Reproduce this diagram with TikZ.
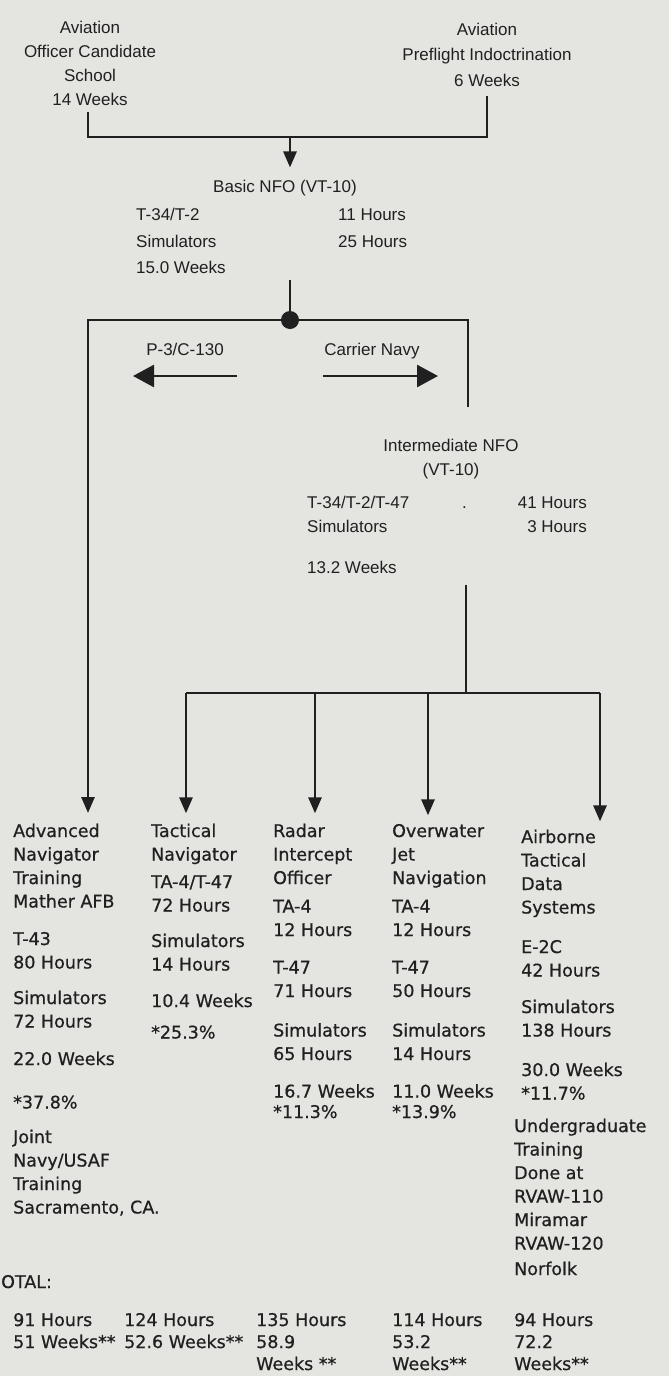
\documentclass[tikz,border=0pt]{standalone}
\usepackage{fontspec}
\setmainfont{Liberation Sans}
\newfontfamily\colfont[FakeBold=0.6]{DejaVu Sans}
\usetikzlibrary{arrows.meta}
\definecolor{paper}{RGB}{228,228,225}
\definecolor{ink}{RGB}{32,32,32}
% stacked lines, baseline on the first line
\newcommand{\lstack}[1]{\begin{tabular}[t]{@{}l@{}}#1\end{tabular}}
\newcommand{\cstack}[1]{\begin{tabular}[t]{@{}c@{}}#1\end{tabular}}
\newcommand{\rstack}[1]{\begin{tabular}[t]{@{}r@{}}#1\end{tabular}}
\begin{document}
\begin{tikzpicture}[x=1pt,y=-1pt,
  every node/.style={text=ink,inner sep=0pt},
  hd/.style={font=\fontsize{17}{24}\selectfont,anchor=base},
  lbl/.style={font=\fontsize{17}{24}\selectfont,anchor=base west},
  colnode/.style={font=\colfont\fontsize{17.5}{23.5}\selectfont,anchor=base west},
  link/.style={draw=ink,line width=2.8pt},
  arr/.style={link,-{Triangle[length=16pt,width=13pt]}},
  bigarr/.style={link,-{Triangle[length=21pt,width=22pt]}}]
\fill[paper] (0,0) rectangle (669,1376);
\useasboundingbox (0,0) rectangle (669,1376);

% entry programs
\node[hd] (ocs) at (90,33) {\cstack{Aviation\\Officer Candidate\\School\\14 Weeks}};
\node[hd] (api) at (487,35) {\cstack{Aviation\\[1pt]Preflight Indoctrination\\[2pt]6 Weeks}};
\coordinate (jn) at (290,137);
\draw[link] ([xshift=-2pt]ocs.south) |- (jn) -| ([yshift=-3pt]api.south);

% basic NFO
\node[hd] (basic) at (285,192) {Basic NFO (VT-10)};
\draw[arr,shorten >=12pt] (jn) -- (jn |- basic.north);
\node[lbl] (basicl) at (136,220) {\lstack{T-34/T-2\\[3pt]Simulators\\[2pt]15.0 Weeks}};
\node[lbl] (basicr) at (338,220) {\lstack{11 Hours\\[3pt]25 Hours}};

% split into the two pipelines
\coordinate (hub) at (290,320);
\coordinate (advtip) at (88,813);
\coordinate (intend) at (468,407);
\draw[link] (basicl.south -| hub) -- (hub);
\draw[arr] (hub) -| (advtip);
\draw[link] (hub) -| (intend);
\fill[ink] (hub) circle (9pt);

\node[hd] (p3) at (185,355) {P-3/C-130};
\node[hd] (carrier) at (372,355) {Carrier Navy};
\coordinate (p3a) at (237,376);
\coordinate (p3b) at (133,376);
\coordinate (cna) at (323,376);
\coordinate (cnb) at (438,376);
\draw[bigarr] (p3a) -- (p3b);
\draw[bigarr] (cna) -- (cnb);

% intermediate NFO
\node[hd] (inter) at (451,451) {\cstack{Intermediate NFO\\(VT-10)}};
\node[lbl] (interl) at (307,508) {\lstack{T-34/T-2/T-47\\Simulators\\[17pt]13.2 Weeks}};
\node[lbl] (interdot) at (462,508) {.};
\node[lbl,anchor=base east] (interr) at (587,508) {\rstack{41 Hours\\3 Hours}};

\coordinate (fork) at (466,693);
\coordinate (fl) at (186,693);
\coordinate (f3) at (315,693);
\coordinate (f4) at (428,693);
\coordinate (fr) at (600,693);
\draw[link] ([yshift=-5pt]interl.south -| fork) -- (fork);
\draw[link] (fl) -- (fr);

% advanced pipelines
\node[colnode] (adv) at (13,837) {\lstack{Advanced\\Navigator\\Training\\Mather AFB\\[14pt]T-43\\80 Hours\\[12pt]Simulators\\72 Hours\\[14pt]22.0 Weeks\\[20pt]*37.8\%\\[11pt]Joint\\Navy/USAF\\Training\\Sacramento, CA.}};
\node[colnode] (tac) at (151,837) {\lstack{Tactical\\Navigator\\[4pt]TA-4/T-47\\72 Hours\\[12pt]Simulators\\14 Hours\\[13pt]10.4 Weeks\\[8pt]*25.3\%}};
\node[colnode] (rio) at (273,837) {\lstack{Radar\\Intercept\\Officer\\[5pt]TA-4\\12 Hours\\[14pt]T-47\\71 Hours\\[16pt]Simulators\\65 Hours\\[14pt]16.7 Weeks\\[-3pt]*11.3\%}};
\node[colnode] (ojn) at (392,837) {\lstack{Overwater\\Jet\\Navigation\\[5pt]TA-4\\12 Hours\\[14pt]T-47\\50 Hours\\[16pt]Simulators\\14 Hours\\[14pt]11.0 Weeks\\[-3pt]*13.9\%}};
\node[colnode] (atds) at (521,843) {\lstack{Airborne\\Tactical\\Data\\Systems\\[16pt]E-2C\\42 Hours\\[13pt]Simulators\\138 Hours\\[16pt]30.0 Weeks\\{}*11.7\%}};
\node[colnode] (rvaw) at (514,1132) {\lstack{Undergraduate\\Training\\Done at\\RVAW-110\\Miramar\\RVAW-120\\[2pt]Norfolk}};

\draw[arr,shorten >=7pt] (fl) -- (fl |- tac.north);
\draw[arr,shorten >=7pt] (f3) -- (f3 |- rio.north);
\draw[arr,shorten >=5pt] (f4) -- (f4 |- ojn.north);
\draw[arr,shorten >=5pt] (fr) -- (fr |- atds.north);

% totals
\node[colnode] (total) at (1,1288) {OTAL:};
\node[colnode] (tot1) at (13,1326) {\lstack{91 Hours\\[-1.5pt]51 Weeks**}};
\node[colnode] (tot2) at (124,1326) {\lstack{124 Hours\\[-1.5pt]52.6 Weeks**}};
\node[colnode] (tot3) at (256,1326) {\lstack{135 Hours\\[-1.5pt]58.9\\[-1.5pt]Weeks **}};
\node[colnode] (tot4) at (392,1326) {\lstack{114 Hours\\[-1.5pt]53.2\\[-1.5pt]Weeks**}};
\node[colnode] (tot5) at (514,1326) {\lstack{94 Hours\\[-1.5pt]72.2\\[-1.5pt]Weeks**}};
\end{tikzpicture}
\end{document}
